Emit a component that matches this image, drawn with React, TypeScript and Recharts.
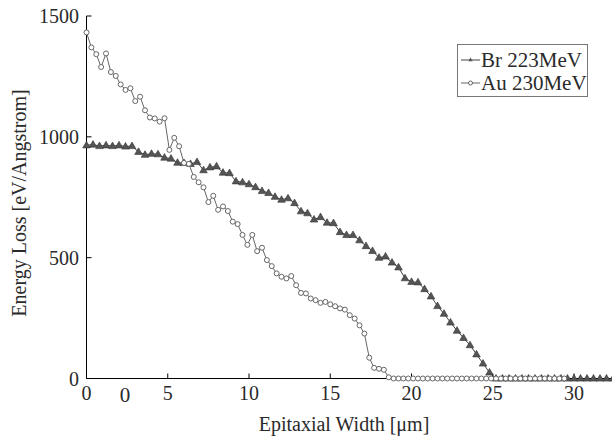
import { Line, LineChart, XAxis, YAxis } from 'recharts'

// Depth grid of each simulation run (µm between samples).
const BR_STEP = 0.4
const AU_STEP = 0.3

// Energy loss [eV/Angstrom], Br 223MeV, from 0 µm up to the right edge.
const brLoss = [
  965, 968, 962, 965, 962, 965, 960, 962, 938, 926, 930, 928, 914, 910, 893,
  892, 888, 896, 862, 874, 878, 852, 850, 816, 812, 804, 792, 776, 768, 752,
  740, 746, 726, 692, 684, 658, 668, 645, 643, 606, 594, 594, 572, 548, 528,
  500, 505, 480, 460, 415, 400, 398, 370, 340, 300, 268, 232, 198, 168, 138,
  100, 62, 25, 0, 0, 0, 0, 0, 0, 0, 0, 0, 0, 0, 0, 0, 0, 0, 0, 0, 0, 0,
]

// Energy loss [eV/Angstrom], Au 230MeV.
const auLoss = [
  1432, 1370, 1342, 1289, 1345, 1268, 1252, 1217, 1194, 1201, 1148, 1166, 1110,
  1080, 1076, 1063, 1077, 946, 996, 961, 892, 888, 834, 812, 791, 730, 756, 698,
  712, 693, 649, 639, 594, 553, 594, 527, 541, 490, 465, 435, 421, 414, 424,
  386, 354, 352, 331, 324, 313, 317, 307, 299, 290, 285, 262, 248, 220, 186, 86,
  44, 40, 36, 5, 0, 0, 0, 0, 0, 0, 0, 0, 0, 0, 0, 0, 0, 0, 0, 0, 0, 0, 0, 0, 0,
  0, 0, 0, 0, 0, 0, 0, 0, 0, 0, 0, 0, 0, 0, 0,
]

const xTicks = [0, 5, 10, 15, 20, 25, 30]
const yTicks = [0, 500, 1000, 1500]
const X_MAX = 32.4

const brData = brLoss.map((v, i) => ({ x: +(i * BR_STEP).toFixed(2), v }))
const auData = auLoss.map((v, i) => ({ x: +(i * AU_STEP).toFixed(2), v }))

const FONT = "'Liberation Serif', 'Times New Roman', serif"
const tickStyle = { fontSize: 20, fill: '#2a2a2a', fontFamily: FONT }

function Triangle(props: any) {
  const { cx, cy } = props
  if (cx == null || cy == null) return <g />
  return (
    <path
      d={`M${cx},${cy - 4} L${cx + 3.8},${cy + 2.6} L${cx - 3.8},${cy + 2.6} Z`}
      fill="#555"
      stroke="#333"
      strokeWidth={0.6}
    />
  )
}

export default function App() {
  return (
    <div
      style={{
        position: 'fixed',
        left: 0,
        top: 0,
        width: 612,
        height: 438,
        overflow: 'hidden',
        background: '#fff',
      }}
    >
      <LineChart
        width={640}
        height={438}
        margin={{ top: 16, right: 27, bottom: 0, left: 0 }}
      >
        <XAxis
          type="number"
          dataKey="x"
          domain={[0, X_MAX]}
          ticks={xTicks}
          height={59.5}
          tickSize={-5}
          tickMargin={12}
          stroke="#000"
          tick={tickStyle}
        />
        <XAxis
          xAxisId="top"
          orientation="top"
          type="number"
          dataKey="x"
          domain={[0, X_MAX]}
          ticks={xTicks}
          height={0}
          tickSize={-5}
          stroke="#000"
          tickFormatter={() => ''}
        />
        <YAxis
          type="number"
          domain={[0, 1500]}
          ticks={yTicks}
          width={86.5}
          tickSize={-5}
          tickMargin={12.5}
          stroke="#000"
          tick={tickStyle}
        />
        <YAxis
          yAxisId="right"
          orientation="right"
          type="number"
          domain={[0, 1500]}
          ticks={yTicks}
          width={0}
          tickSize={-5}
          stroke="#000"
          tickFormatter={() => ''}
        />
        <Line
          data={brData}
          dataKey="v"
          name="Br 223MeV"
          type="linear"
          stroke="#444"
          strokeWidth={1}
          dot={Triangle}
          isAnimationActive={false}
        />
        <Line
          data={auData}
          dataKey="v"
          name="Au 230MeV"
          type="linear"
          stroke="#666"
          strokeWidth={1}
          dot={{ r: 2.5, fill: '#fff', stroke: '#666', strokeWidth: 1 }}
          isAnimationActive={false}
        />
      </LineChart>

      <svg
        width={612}
        height={438}
        style={{ position: 'absolute', left: 0, top: 0, pointerEvents: 'none' }}
        fontFamily={FONT}
      >
        <text
          transform="translate(26,203) rotate(-90)"
          textAnchor="middle"
          fontSize={20}
          fill="#2a2a2a"
        >
          Energy Loss [eV/Angstrom]
        </text>
        <text x={344} y={431} textAnchor="middle" fontSize={20} fill="#2a2a2a">
          Epitaxial Width [μm]
        </text>
        <text x={125} y={402} textAnchor="middle" fontSize={21} fill="#2a2a2a">
          0
        </text>

        <rect x={457.5} y={44.5} width={130} height={52} fill="#fff" stroke="#777" />
        <line x1={461} y1={60} x2={480} y2={60} stroke="#444" />
        <path d="M470.5,57.5 L472.7,61.3 L468.3,61.3 Z" fill="#555" />
        <text x={481} y={67} fontSize={21} fill="#2a2a2a">
          Br 223MeV
        </text>
        <line x1={461} y1={83} x2={480} y2={83} stroke="#666" />
        <circle cx={470.5} cy={83} r={2} fill="#fff" stroke="#666" />
        <text x={481} y={90} fontSize={21} fill="#2a2a2a">
          Au 230MeV
        </text>
      </svg>
    </div>
  )
}
